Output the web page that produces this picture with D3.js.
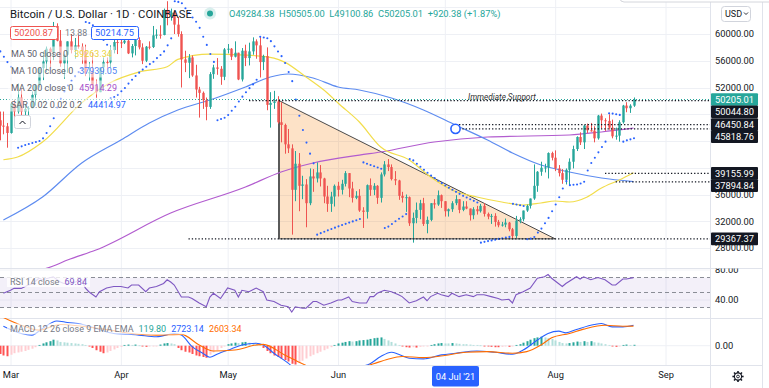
<!DOCTYPE html>
<html><head><meta charset="utf-8">
<script src="https://cdn.jsdelivr.net/npm/d3@7/dist/d3.min.js"></script>
<style>
body{margin:0;background:#fff;}
svg{display:block;font-family:Roboto,"Noto Sans",sans-serif;}
</style></head><body>
<svg id="c" width="769" height="388"></svg>
<script>
// ---------------- DATA ----------------
const candleStart = "2021-02-25";
const ohlc = [
[49700,52000,46900,47100],[47100,48400,44100,46300],[46300,48400,45000,46200],[46200,46700,43000,45200],
[45200,49800,45100,49600],[49600,50200,47100,48400],[48400,52600,48100,50500],[50500,51800,47500,48400],[48400,49500,46300,48800],
[48800,49200,47100,48900],[48900,51400,48900,50900],[50900,52400,49300,52400],[52400,54900,52000,54900],[54900,57400,53100,55900],
[55900,58100,54300,57800],[57800,58000,55000,57300],[57300,61800,56100,61200],[61200,61600,58900,59000],[59000,60600,55100,55600],
[55600,56900,53300,56900],[56900,58900,54200,58900],[58900,60000,57100,57600],[57600,59400,56300,58300],[58300,59900,57800,58100],
[58100,58600,55500,57400],[57400,58400,53700,54100],[54100,55800,53000,54300],[54300,57200,51700,52300],[52300,53200,50400,51300],
[51300,55000,51300,55000],[55000,56500,53900,55800],[55800,56500,54700,55750],[55750,58300,55000,57600],[57600,59300,57100,58800],
[58800,59700,57000,58750],
[58750,59500,57900,58700],[58700,60000,58500,59000],[59000,59800,57000,57100],[57100,58500,56500,58200],[58200,59200,56800,59100],
[59100,59500,57700,58000],[58000,58600,55500,56000],[56000,58200,55800,58100],[58100,58900,57700,58050],[58050,61200,57900,59800],
[59800,60700,59300,59900],[59900,61300,59300,59850],[59850,63800,59800,63600],[63600,64900,61300,62900],[62900,63800,62000,63200],
[63200,63500,60000,61400],[61400,62500,59600,60000],[60000,60400,52000,56200],[56200,57500,54300,55700],[55700,57000,53400,56500],
[56500,56800,53600,53800],[53800,55400,50500,51700],[51700,52100,47500,51200],[51200,51400,48800,50100],[50100,50500,47100,49100],
[49100,54300,48800,54000],[54000,55400,53300,55000],[55000,56400,53900,54800],[54800,55200,52400,53600],[53600,57900,53100,57700],
[57700,58500,57100,57800],[57800,57900,56100,56600],[56600,58900,56500,57200],[57200,57200,53100,53200],[53200,57900,52900,57500],
[57500,58400,55200,56400],[56400,58700,55300,57400],[57400,59500,56900,58900],[58900,59200,56300,58300],[58300,59600,53500,55800],
[55800,56900,54600,56700],[56700,58000,48600,49400],[49400,51300,46000,49700],[49700,51500,48800,49900],[49900,50700,46600,46800],
[46800,49800,43800,46400],[46400,46600,42100,43500],[43500,45800,42200,42900],[42900,43500,30000,36700],[36700,42500,35000,40600],
[40600,42200,33500,37300],[37300,38800,35300,37500],[37500,38300,31100,34700],[34700,39900,34400,38700],[38700,39800,36400,38400],
[38400,40800,37800,39300],[39300,40400,37200,38400],[38400,38500,34700,35700],[35700,37300,33400,34600],[34600,36400,33400,35700],
[35700,37500,34200,37300],
[37300,37900,35700,36700],[36700,38200,36000,37600],[37600,39500,37200,39200],[39200,39200,35600,36900],[36900,37900,34800,35500],
[35500,36500,35300,35800],[35800,36800,33400,33600],[33600,34100,31000,33400],[33400,37500,32400,37400],[37400,38400,35800,36700],
[36700,37700,35900,37300],[37300,37400,34600,35500],[35500,39300,34800,39000],[39000,41000,38700,40500],[40500,41300,39500,40100],
[40100,40500,38100,38300],[38300,39500,37400,38100],[38100,38200,35200,35800],[35800,36400,34800,35500],[35500,36000,33400,35600],
[35600,35700,31300,31700],[31700,33300,28800,32500],[32500,34800,31700,33700],[33700,35200,32300,34700],[34700,35500,31300,31600],
[31600,32700,30200,32200],[32200,34700,32000,34700],[34700,35300,33900,34500],[34500,36600,34300,35900],[35900,36000,34000,35000],
[35000,35000,32700,33500],[33500,33900,32700,33800],[33800,35000,33400,34700],[34700,35900,34400,35300],[35300,35300,33200,33700],
[33700,35000,33500,34200],[34200,35000,33800,33900],[33900,33900,32100,32900],[32900,34100,32300,33800],[33800,34300,33000,33500],
[33500,34600,33300,34300],[34300,34700,32700,33100],[33100,33300,32300,32700],[32700,33100,31600,32800],[32800,33200,31200,31900],
[31900,32200,31100,31400],[31400,31900,31200,31500],[31500,32400,31100,31800],[31800,31900,30500,30800],[30800,31000,29300,29800],
[29800,32800,29500,32100],[32100,32600,31700,32300],[32300,33600,32000,33600],[33600,34500,33400,34300],[34300,35400,33900,35400],
[35400,40500,35200,37300],[37300,39500,36400,39400],[39400,40900,38800,40000],[40000,40600,39300,40050],[40050,42300,38400,42200],
[42200,42400,41100,41500],
[41500,42600,39500,39900],[39900,40400,38700,39200],[39200,39800,37600,38200],[38200,39900,37500,39700],[39700,41400,37400,40900],
[40900,43300,39900,42800],[42800,44700,42500,44600],[44600,45300,43400,43800],[43800,46400,42800,46300],[46300,46600,45200,45600],
[45600,46700,45400,45550],[45550,46200,43800,44400],[44400,47900,44200,47800],[47800,48100,45900,47100],[47100,47400,45500,47000],
[47000,48000,45700,46000],[46000,47200,44400,44700],[44700,46000,44200,44800],[44800,47100,43900,46800],[46800,49400,46600,49300],
[49300,49800,48300,48900],[48900,49500,48200,49284.38],[49284.38,50505.00,49100.86,50205.01]
];
const sar = [
58200,57400,56600,55800,
55100,54400,43000,43200,43400,43550,43700,43850,44000,44400,45200,46200,47400,49000,50300,51400,52300,53000,53700,54300,54800,
61800,61640,61300,60700,59900,59100,58400,50400,50560,50900,
51440,51930,52580,53170,53720,54220,54680,55100,55500,55860,56400,56870,57400,58300,59350,
64900,64800,64600,63840,63130,62460,61830,60920,59580,58370,57020,55830,47100,47290,47470,
47890,48530,49130,49910,50630,51290,51900,52460,53160,
59600,59480,59360,58930,58150,57380,56690,55660,54310,52950,50200,47770,45640,43760,42110,40660,
30000,30220,30430,30640,30840,31040,
31240,31430,31610,31800,31980,32160,32330,40800,40600,40410,40220,40040,39860,
31000,31200,31600,31990,32370,32720,33070,41300,41100,40600,40150,39700,39250,38850,38450,38050,37700,
37350,37000,36700,36400,36100,35800,35550,35300,35050,34800,
28800,28920,29030,29140,29250,29360,29460,29560,29660,34600,34500,34390,34290,
29300,29400,29650,30300,30900,31700,32500,33500,
34500,35600,36900,38000,37400,37450,37500,37650,37900,39600,40700,41500,42300,43100,43900,
48150,48100,48000,47900,43900,44100,44250,44414.97
];
const macdHist = [
-900,-1100,-1300,-1400,
-1200,-1000,-900,-800,-700,-550,-400,-200,100,300,450,600,800,700,500,450,400,350,300,250,200,100,-100,-300,-600,-800,-1000,-900,-700,-500,-300,
-150,100,150,100,150,50,-100,-150,-100,-50,-30,150,300,350,300,200,-300,-600,-800,-900,-1100,-1300,-1400,-1500,-1600,-1200,-900,-600,-300,-100,
200,300,400,350,450,500,400,300,200,100,-300,-700,-1000,-1300,-1500,-1700,-1900,-2100,-2400,-2500,-2300,-2000,-1700,-1400,-1200,-1000,-800,-600,-400,-200,100,
300,400,500,600,550,600,700,750,800,900,1000,1050,1100,900,700,500,300,100,-100,-200,-250,-200,-250,-150,-100,-50,100,200,300,350,
300,300,350,300,250,200,200,150,100,100,50,-50,-100,-150,-200,-200,-150,-100,-150,-100,100,200,400,600,800,1000,1100,1200,1100,1000,900,
700,500,350,300,350,450,550,500,600,500,600,450,400,300,200,100,-100,-150,-50,100,150,100,119.80
];
const ma50 = [["2021-02-27",41200],["2021-03-03",41600],["2021-03-10",43850],["2021-03-21",49700],["2021-03-29",52700],["2021-04-06",54300],["2021-04-14",55100],["2021-04-17",56200],["2021-04-26",57000],["2021-05-06",56850],["2021-05-14",56400],["2021-05-17",55800],["2021-05-23",53570],["2021-05-29",51180],["2021-06-01",49680],["2021-06-07",46840],["2021-06-13",43100],["2021-06-21",41160],["2021-06-27",38620],["2021-07-03",36670],["2021-07-10",35630],["2021-07-17",34880],["2021-07-23",34430],["2021-07-28",34730],["2021-08-01",35030],["2021-08-05",34880],["2021-08-10",35630],["2021-08-14",36970],["2021-08-19",38170],["2021-08-23",39263.34]];
const ma100 = [["2021-02-27",32190],["2021-03-10",35630],["2021-03-21",40710],["2021-04-01",44150],["2021-04-09",46690],["2021-04-17",48640],["2021-04-26",50130],["2021-05-06",52080],["2021-05-13",53570],["2021-05-18",54020],["2021-05-25",53420],["2021-06-01",52080],["2021-06-07",51630],["2021-06-16",50430],["2021-06-25",48640],["2021-07-04",46390],["2021-07-13",44150],["2021-07-20",42210],["2021-07-28",40410],["2021-08-05",39360],["2021-08-14",38470],["2021-08-23",37939.05]];
const ma200 = [["2021-03-01",23800],["2021-03-13",25300],["2021-03-17",26200],["2021-03-25",27700],["2021-04-15",33230],["2021-05-06",37120],["2021-05-16",39360],["2021-05-25",40710],["2021-06-07",41900],["2021-06-13",42360],["2021-06-28",43850],["2021-07-13",44600],["2021-08-05",44900],["2021-08-14",45350],["2021-08-23",45914.29]];
const rsi = [["2021-02-27",49],["2021-03-01",53],["2021-03-02",55.5],["2021-03-04",55.5],["2021-03-06",60],["2021-03-07",61],["2021-03-09",69],["2021-03-10",67],["2021-03-13",71],["2021-03-15",64],["2021-03-16",62],["2021-03-18",62],["2021-03-21",67],["2021-03-22",56],["2021-03-23",51],["2021-03-25",44],["2021-03-26",51],["2021-03-28",56],["2021-03-30",58],["2021-04-01",58],["2021-04-03",56],["2021-04-04",60],["2021-04-06",60],["2021-04-08",51],["2021-04-09",56],["2021-04-11",58],["2021-04-13",62],["2021-04-14",67],["2021-04-15",64],["2021-04-16",60],["2021-04-18",44],["2021-04-20",44],["2021-04-21",42],["2021-04-23",36],["2021-04-25",31],["2021-04-26",44],["2021-04-27",49],["2021-04-29",42],["2021-05-01",56],["2021-05-03",53],["2021-05-04",44],["2021-05-05",53],["2021-05-07",51],["2021-05-09",56],["2021-05-11",51],["2021-05-12",40],["2021-05-14",38],["2021-05-16",33],["2021-05-18",31],["2021-05-19",24],["2021-05-20",31],["2021-05-22",29],["2021-05-23",29],["2021-05-25",38],["2021-05-26",38],["2021-05-28",33],["2021-05-30",36],["2021-06-01",40],["2021-06-02",40],["2021-06-04",44],["2021-06-05",38],["2021-06-07",36],["2021-06-09",36],["2021-06-10",44.5],["2021-06-11",44.5],["2021-06-12",49],["2021-06-14",53],["2021-06-16",51],["2021-06-18",47],["2021-06-19",44.5],["2021-06-21",36],["2021-06-23",39],["2021-06-25",44],["2021-06-26",39],["2021-06-27",44.5],["2021-06-29",49],["2021-06-30",47],["2021-07-02",44.5],["2021-07-03",49],["2021-07-05",44.5],["2021-07-07",47],["2021-07-09",44.5],["2021-07-10",47],["2021-07-12",47],["2021-07-14",44.5],["2021-07-16",42],["2021-07-17",40],["2021-07-19",41],["2021-07-20",36],["2021-07-21",47],["2021-07-23",51],["2021-07-25",56],["2021-07-27",69],["2021-07-29",71],["2021-07-30",74],["2021-07-31",69],["2021-08-03",58],["2021-08-04",62],["2021-08-07",71],["2021-08-08",68],["2021-08-09",71],["2021-08-11",67],["2021-08-13",70],["2021-08-15",67],["2021-08-17",60],["2021-08-18",60],["2021-08-20",68],["2021-08-21",68],["2021-08-23",69.84]];
const macdLine = [["2021-02-27",2590],["2021-03-04",1630],["2021-03-07",1410],["2021-03-10",2290],["2021-03-14",3290],["2021-03-17",3080],["2021-03-21",2860],["2021-03-25",2290],["2021-03-30",1630],["2021-04-03",1540],["2021-04-06",1410],["2021-04-11",1180],["2021-04-16",1630],["2021-04-18",1410],["2021-04-21",-130],["2021-04-24",-1000],["2021-04-26",-1530],["2021-04-28",-1130],["2021-05-02",-430],["2021-05-05",90],["2021-05-09",320],["2021-05-11",90],["2021-05-14",-1000],["2021-05-18",-2320],["2021-05-21",-3500],["2021-05-26",-4000],["2021-06-01",-3400],["2021-06-06",-2900],["2021-06-10",-2400],["2021-06-13",-1440],["2021-06-16",-870],["2021-06-18",-1130],["2021-06-21",-1660],["2021-06-25",-1750],["2021-06-30",-1220],["2021-07-04",-1000],["2021-07-10",-700],["2021-07-15",-870],["2021-07-20",-1130],["2021-07-23",-570],["2021-07-27",750],["2021-07-30",1630],["2021-08-02",1930],["2021-08-04",1710],["2021-08-07",2160],["2021-08-12",2820],["2021-08-14",2950],["2021-08-17",2500],["2021-08-20",2500],["2021-08-23",2723.14]];
const signalLine = [["2021-02-27",3740],["2021-03-04",2720],["2021-03-09",2070],["2021-03-15",2820],["2021-03-21",2590],["2021-03-29",2070],["2021-04-04",1630],["2021-04-11",1410],["2021-04-18",1500],["2021-04-23",90],["2021-04-27",-700],["2021-05-03",-570],["2021-05-09",90],["2021-05-11",180],["2021-05-17",-1220],["2021-05-22",-2400],["2021-05-27",-3300],["2021-06-02",-3450],["2021-06-07",-3000],["2021-06-11",-2400],["2021-06-15",-1790],["2021-06-19",-1440],["2021-06-25",-1580],["2021-07-01",-1310],["2021-07-07",-870],["2021-07-13",-790],["2021-07-20",-1000],["2021-07-24",-790],["2021-07-28",90],["2021-07-31",1050],["2021-08-05",1630],["2021-08-09",2200],["2021-08-15",2720],["2021-08-20",2590],["2021-08-23",2603.34]];
const priceTicks = [28000,32000,36000,40000,44000,48000,52000,56000,60000,64000];
const rsiTicks = [40,80];
const rsiBands = [70,50,30];
const macdTicks = [0];
const monthTicks = ["2021-03-01","2021-04-01","2021-05-01","2021-06-01","2021-07-01","2021-08-01","2021-09-01"];
const lastPrice = 50205.01;
const levels = [50044.80,46450.84,45818.76,39155.99,37894.84,29367.37];
const levelFrom = ["2021-05-07","2021-07-05","2021-07-05","2021-08-15","2021-08-18","2021-04-20"];
const triangle = [["2021-05-15T10:00Z",50044.80],["2021-05-15T10:00Z",29367.37],["2021-08-01",29367.37]];
const marker = ["2021-07-04",45818.76];
const crossDate = "2021-07-04";
const title = "Bitcoin / U.S. Dollar · 1D · COINBASE";
const ohlcText = "O49284.38  H50505.00  L49100.86  C50205.01  +920.38 (+1.87%)";
const bidAsk = ["50200.87","13.88","50214.75"];
const maLegend = [["MA 50 close 0","39263.34","#ecd33a"],["MA 100 close 0","37939.05","#4d7ff0"],["MA 200 close 0","45914.29","#a64fc9"],["SAR 0.02 0.02 0.2","44414.97","#2962ff"]];
const rsiLegend = [["RSI 14 close","#787b86"],["69.84","#7e57c2"]];
const macdLegend = [["MACD 12 26 close 9 EMA EMA","#787b86"],["119.80","#26a69a"],["2723.14","#2962ff"],["2603.34","#ff6d00"]];

// ---------------- CHART ----------------
const W=769,H=388, PR=710;
const P = d3.isoParse;
const FONT = "Roboto,'Noto Sans',sans-serif";
const svg = d3.select("#c");
svg.append("rect").attr("width",W).attr("height",H).attr("fill","#fff");
const defs = svg.append("defs");
function clip(id,x,y,w,h){defs.append("clipPath").attr("id",id).append("rect").attr("x",x).attr("y",y).attr("width",w).attr("height",h);}
clip("cMain",0,0,PR,268); clip("cRsi",0,268,PR,50); clip("cMacd",0,318,PR,47); clip("cRsiAx",PR,268.5,W-PR,49.5);

const x = d3.scaleUtc().domain([P("2021-03-01"),P("2021-08-23")]).range([10.5,633.5]);
const yP = d3.scaleLinear().domain([28000,60000]).range([248,34]);
const yR = d3.scaleLinear().domain([30,70]).range([307.5,277.5]);
const yM = d3.scaleLinear().domain([0,2723.14]).range([345.7,325.2]);

const candles = ohlc.map((d,i)=>({date:d3.utcDay.offset(P(candleStart),i),o:d[0],h:d[1],l:d[2],c:d[3],sar:sar[i],hist:macdHist[i]}));

// price label positions (stacked to avoid collisions)
const labs = [{v:lastPrice,bg:"#26a69a"}].concat(levels.map(v=>({v,bg:"#131722"}))).sort((a,b)=>b.v-a.v);
let prevY=-1e9; labs.forEach(l=>{let y=yP(l.v); if(y<prevY+12.2) y=prevY+12.2; l.y=y; prevY=y;});

// grid
const grid = svg.append("g");
grid.selectAll("line.v").data(monthTicks).join("line").attr("class","v")
  .attr("x1",d=>x(P(d))+.5).attr("x2",d=>x(P(d))+.5).attr("y1",0).attr("y2",365).attr("stroke","#eef0f5");
grid.selectAll("line.h").data(priceTicks).join("line").attr("class","h")
  .attr("x1",0).attr("x2",PR).attr("y1",d=>Math.round(yP(d))+.5).attr("y2",d=>Math.round(yP(d))+.5).attr("stroke","#eef0f5");
grid.selectAll("line.hr").data(rsiTicks).join("line").attr("class","hr").attr("clip-path","url(#cRsi)")
  .attr("x1",0).attr("x2",PR).attr("y1",d=>yR(d)).attr("y2",d=>yR(d)).attr("stroke","#f2f3f7");
grid.selectAll("line.hm").data(macdTicks).join("line").attr("class","hm")
  .attr("x1",0).attr("x2",PR).attr("y1",d=>yM(d)).attr("y2",d=>yM(d)).attr("stroke","#eef0f5");

// separators
const sep = svg.append("g").attr("stroke","#e0e3eb").attr("fill","none");
[268.5,318.5,365.5].forEach(y=>sep.append("line").attr("x1",0).attr("x2",762).attr("y1",y).attr("y2",y));
sep.append("line").attr("x1",PR+.5).attr("x2",PR+.5).attr("y1",0).attr("y2",388);
sep.append("line").attr("x1",762.5).attr("x2",762.5).attr("y1",0).attr("y2",388);

// ---- main pane
const gm = svg.append("g").attr("clip-path","url(#cMain)");
const triPts = triangle.map(d=>[x(P(d[0])),yP(d[1])]);
gm.append("path").attr("d","M"+triPts.join("L")+"Z").attr("fill","rgba(245,124,0,0.22)").attr("stroke","#4a4a4a").attr("stroke-width",1);
gm.append("line").attr("x1",triPts[0][0]).attr("x2",triPts[1][0]).attr("y1",triPts[0][1]).attr("y2",triPts[1][1]).attr("stroke","#5a5a5a").attr("stroke-width",2);

const lineP = d3.line().x(d=>x(P(d[0]))).y(d=>yP(d[1])).curve(d3.curveMonotoneX);
[[ma200,"#b25ccf"],[ma100,"#5e8cf0"],[ma50,"#f2dd4b"]].forEach(([data,col])=>{
  gm.append("path").attr("d",lineP(data)).attr("fill","none").attr("stroke",col).attr("stroke-width",1.2);
});

gm.append("line").attr("x1",0).attr("x2",PR).attr("y1",yP(lastPrice)).attr("y2",yP(lastPrice))
  .attr("stroke","#26a69a").attr("stroke-dasharray","1,2").attr("stroke-width",1);

const up="#26a69a", dn="#ef5350";
const gc = gm.append("g");
gc.selectAll("line.w").data(candles).join("line").attr("class","w")
  .attr("x1",d=>Math.round(x(d.date))+.5).attr("x2",d=>Math.round(x(d.date))+.5)
  .attr("y1",d=>yP(d.h)).attr("y2",d=>yP(d.l)).attr("stroke",d=>d.c>=d.o?up:dn).attr("stroke-width",1);
gc.selectAll("rect.b").data(candles).join("rect").attr("class","b")
  .attr("x",d=>Math.round(x(d.date))-0.7).attr("width",2.4)
  .attr("y",d=>yP(Math.max(d.o,d.c))).attr("height",d=>Math.max(1,Math.abs(yP(d.o)-yP(d.c))))
  .attr("fill",d=>d.c>=d.o?up:dn);

gm.append("g").selectAll("circle").data(candles).join("circle")
  .attr("cx",d=>x(d.date)+.5).attr("cy",d=>yP(d.sar)).attr("r",1.05).attr("fill","#2962ff");

const gl = gm.append("g");
levels.forEach((v,i)=>{
  gl.append("line").attr("x1",x(P(levelFrom[i]))).attr("x2",PR).attr("y1",yP(v)).attr("y2",yP(v))
    .attr("stroke","#131722").attr("stroke-width",1.3).attr("stroke-dasharray","1.3,2");
});
gm.append("text").attr("x",468).attr("y",yP(levels[0])-0.5).attr("font-size",8.2).attr("font-style","italic")
  .attr("fill","#333").text("Immediate Support");
gm.append("circle").attr("cx",x(P(marker[0]))).attr("cy",yP(marker[1])).attr("r",4.6)
  .attr("fill","#fff").attr("stroke","#2962ff").attr("stroke-width",1.6);

// ---- RSI pane
const gr = svg.append("g").attr("clip-path","url(#cRsi)");
gr.append("rect").attr("x",0).attr("width",PR).attr("y",yR(70)).attr("height",yR(30)-yR(70)).attr("fill","rgba(126,87,194,0.09)");
rsiBands.forEach(v=>gr.append("line").attr("x1",0).attr("x2",PR).attr("y1",yR(v)).attr("y2",yR(v))
  .attr("stroke","#8a8d96").attr("stroke-dasharray","4,3").attr("stroke-width",1));
gr.append("path").attr("d",d3.line().x(d=>x(P(d[0]))).y(d=>yR(d[1]))(rsi)).attr("fill","none").attr("stroke","#7e57c2").attr("stroke-width",1.1);

// ---- MACD pane
const gmc = svg.append("g").attr("clip-path","url(#cMacd)");
gmc.selectAll("rect").data(candles).join("rect")
  .attr("x",d=>Math.round(x(d.date))-0.5).attr("width",2)
  .attr("y",d=>Math.min(yM(d.hist),yM(0))).attr("height",d=>Math.max(0.8,Math.abs(yM(d.hist)-yM(0))))
  .attr("fill",(d,i)=>{const p=i?candles[i-1].hist:d.hist; if(d.hist>=0) return d.hist>p?"#26a69a":"#b2dfdb"; return d.hist>p?"#ffcdd2":"#ff5252";});
const lineM = d3.line().x(d=>x(P(d[0]))).y(d=>yM(d[1])).curve(d3.curveMonotoneX);
gmc.append("path").attr("d",lineM(macdLine)).attr("fill","none").attr("stroke","#2962ff").attr("stroke-width",1.1);
gmc.append("path").attr("d",lineM(signalLine)).attr("fill","none").attr("stroke","#ff6d00").attr("stroke-width",1.1);

// ---- price axis (ticks hidden where a price label covers them, as in the reference)
const axFont = 9.3;
const shownTicks = priceTicks.filter(v=>yP(v)>14 && labs.every(l=>Math.abs(yP(v)-l.y)>=8));
function styleAx(g){g.select(".domain").remove(); g.selectAll("text").attr("font-size",axFont).attr("font-family",FONT).attr("fill","#131722");}
svg.append("g").attr("transform",`translate(${PR+2},0)`)
  .call(d3.axisRight(yP).tickValues(shownTicks).tickSize(0).tickPadding(3).tickFormat(d3.format(".2f"))).call(styleAx);
svg.append("g").attr("clip-path","url(#cRsiAx)").append("g").attr("transform",`translate(${PR+2},0)`)
  .call(d3.axisRight(yR).tickValues(rsiTicks).tickSize(0).tickPadding(3).tickFormat(d3.format(".2f"))).call(styleAx);
svg.append("g").attr("transform",`translate(${PR+2},0)`)
  .call(d3.axisRight(yM).tickValues(macdTicks).tickSize(0).tickPadding(3).tickFormat(d3.format(".2f"))).call(styleAx);

const gL = svg.append("g");
labs.forEach(l=>{
  gL.append("rect").attr("x",PR+1).attr("y",l.y-6.3).attr("width",47).attr("height",12.6).attr("fill",l.bg).attr("rx",1);
  gL.append("text").attr("x",PR+5).attr("y",l.y).attr("dy","0.35em").attr("font-size",axFont).attr("fill","#fff").text(d3.format(".2f")(l.v));
});

// USD button & top popup edge
svg.append("rect").attr("x",620).attr("y",-12).attr("width",160).attr("height",14).attr("rx",4).attr("fill","#fff").attr("stroke","#d4d6dc");
svg.append("rect").attr("x",721.5).attr("y",6.5).attr("width",29).attr("height",15).attr("rx",3).attr("fill","#fff").attr("stroke","#d1d4dc");
svg.append("text").attr("x",725).attr("y",14).attr("dy","0.35em").attr("font-size",9).attr("fill","#131722").text("USD");
svg.append("path").attr("d","M744,12.5 l2,2 l2,-2").attr("fill","none").attr("stroke","#131722").attr("stroke-width",0.9);

// ---- time axis (label under the crosshair box is hidden, as in the reference)
const cx = x(P(crossDate));
const shownMonths = monthTicks.map(P).filter(d=>Math.abs(x(d)-cx)>30);
svg.append("g").attr("transform","translate(0,365)")
  .call(d3.axisBottom(x).tickValues(shownMonths).tickSize(0).tickPadding(6).tickFormat(d3.utcFormat("%b")))
  .call(g=>{g.select(".domain").remove(); g.selectAll("text").attr("font-size",9.3).attr("font-family",FONT).attr("fill","#131722");});
svg.append("rect").attr("x",cx-23.5).attr("y",366).attr("width",47).attr("height",20.5).attr("rx",2).attr("fill","#2962ff");
svg.append("text").attr("x",cx).attr("y",376.5).attr("dy","0.35em").attr("text-anchor","middle").attr("font-size",9.3).attr("fill","#fff").text(d3.utcFormat("%d %b '%y")(P(crossDate)));
const gear = svg.append("g").attr("transform","translate(738,376.5)").attr("stroke","#131722").attr("fill","none");
gear.append("circle").attr("r",3.6).attr("stroke-width",1.1);
gear.append("circle").attr("r",1.4).attr("stroke-width",0.9);
d3.range(8).forEach(i=>{const a=i*Math.PI/4; gear.append("line").attr("x1",Math.cos(a)*3.6).attr("y1",Math.sin(a)*3.6).attr("x2",Math.cos(a)*5.6).attr("y2",Math.sin(a)*5.6).attr("stroke-width",1.6);});

// ---- legends
function seq(g,x0,y,parts,size,gap){
  let xx=x0;
  parts.forEach(([t,c])=>{const n=g.append("text").attr("x",xx).attr("y",y).attr("dy","0.35em").attr("font-size",size).attr("fill",c).text(t);
    xx+=n.node().getComputedTextLength()+gap;});
  return xx-gap;
}
const lg = svg.append("g");
seq(lg,10,14,[[title,"#131722"]],11.3,0);
lg.append("circle").attr("cx",210).attr("cy",13.5).attr("r",6).attr("fill","rgba(38,166,154,0.18)");
lg.append("circle").attr("cx",210).attr("cy",13.5).attr("r",3).attr("fill","#26a69a");
lg.append("text").attr("x",229).attr("y",14).attr("dy","0.35em").attr("font-size",9.3).attr("fill","#26a69a").style("white-space","pre").text(ohlcText);
{
  const y=33;
  const t1 = lg.append("text").attr("x",14).attr("y",y).attr("dy","0.35em").attr("font-size",9.3).attr("fill","#ef5350").text(bidAsk[0]);
  const w1 = t1.node().getComputedTextLength();
  lg.insert("rect","text").attr("x",10.5).attr("y",y-6.5).attr("width",w1+8).attr("height",13).attr("rx",2).attr("fill","#fff").attr("stroke","#ef5350");
  lg.append("text").attr("x",65).attr("y",y).attr("dy","0.35em").attr("font-size",8.8).attr("fill","#787b86").text(bidAsk[1]);
  const t3 = lg.append("text").attr("x",95).attr("y",y).attr("dy","0.35em").attr("font-size",9.3).attr("fill","#2962ff").text(bidAsk[2]);
  const w3 = t3.node().getComputedTextLength();
  lg.insert("rect","text").attr("x",91.5).attr("y",y-6.5).attr("width",w3+8).attr("height",13).attr("rx",2).attr("fill","#fff").attr("stroke","#2962ff");
}
maLegend.forEach((m,i)=>{
  const y=53.5+i*17;
  const bg = lg.append("rect").attr("x",8).attr("y",y-7).attr("height",14).attr("fill","#fff").attr("opacity",0.55);
  const end = seq(lg,11,y,[[m[0],"#5d606b"],[m[1],m[2]]],9,6);
  bg.attr("width",end-8+3);
});
lg.append("rect").attr("x",14.5).attr("y",115.5).attr("width",16).attr("height",13).attr("rx",2).attr("fill","#fff").attr("stroke","#d1d4dc");
lg.append("path").attr("d","M19.5,124 l3,-3 l3,3").attr("fill","none").attr("stroke","#131722").attr("stroke-width",1);
{
  const bg = lg.append("rect").attr("x",7).attr("y",276).attr("height",11).attr("fill","#fff").attr("opacity",0.8);
  const end = seq(lg,10,281.7,rsiLegend,9,5);
  bg.attr("width",end-7+3);
}
{
  const bg = lg.append("rect").attr("x",7).attr("y",323.5).attr("height",11).attr("fill","#fff").attr("opacity",0.7);
  const end = seq(lg,10,329.2,macdLegend,9,5);
  bg.attr("width",end-7+3);
}
</script></body></html>
